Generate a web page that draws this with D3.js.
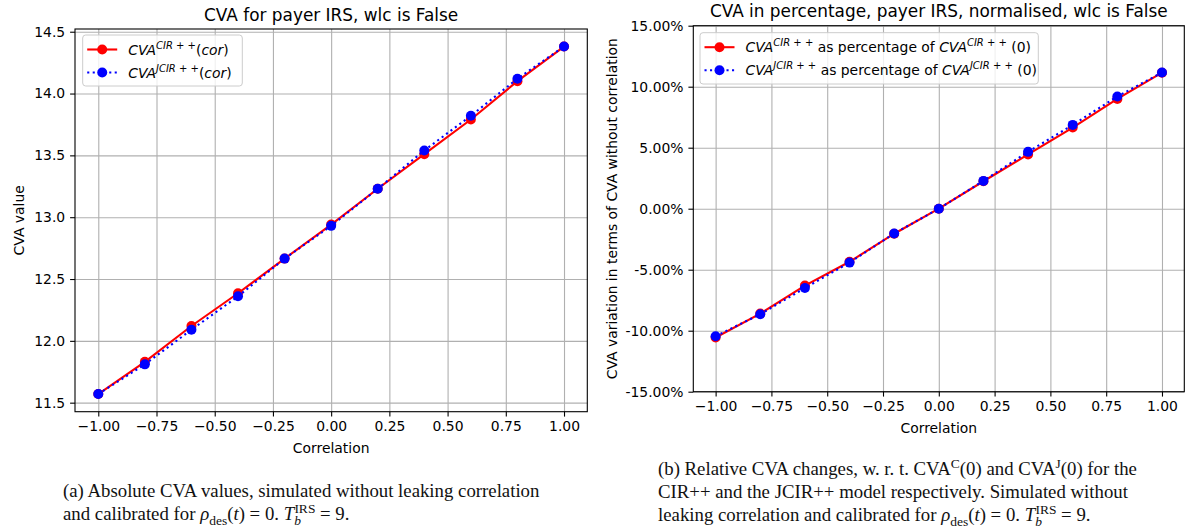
<!DOCTYPE html>
<html>
<head>
<meta charset="utf-8">
<title>CVA vs correlation</title>
<script src="https://cdn.jsdelivr.net/npm/d3@7"></script>
<style>
  body { margin: 0; background: white; }
  svg text { font-family: "DejaVu Sans", sans-serif; }
</style>
</head>
<body>
<svg id="fig" width="1191" height="529"></svg>
<script>
// data
const corr = [-1, -0.8, -0.6, -0.4, -0.2, 0, 0.2, 0.4, 0.6, 0.8, 1];
const cvaCir  = [11.57, 11.83, 12.12, 12.385, 12.665, 12.94, 13.23, 13.51, 13.79, 14.10, 14.38];
const cvaJcir = [11.57, 11.81, 12.09, 12.36, 12.665, 12.93, 13.23, 13.54, 13.82, 14.12, 14.38];
const pctCir  = [-10.56, -8.6, -6.3, -4.35, -2.05, 0, 2.25, 4.45, 6.65, 9.0, 11.15];
const pctJcir = [-10.45, -8.65, -6.5, -4.42, -2.03, 0, 2.28, 4.66, 6.87, 9.2, 11.16];
const xTicks = [-1, -0.75, -0.5, -0.25, 0, 0.25, 0.5, 0.75, 1];
const leftYTicks = [11.5, 12.0, 12.5, 13.0, 13.5, 14.0, 14.5];
const rightYTicks = [-15, -10, -5, 0, 5, 10, 15];

const svg = d3.select("#fig");
const fs = 13.9;
const uminus = s => s.replace(/^[-\u2212]/, "\u2212");
const hyphen = s => s.replace(/^[-\u2212]/, "-");

// write a run of tspans; parts: [text, italic, shift, dx]  shift: 0 base, 1 sup, -1 sub
function rich(text, parts, small) {
  let cur = 0;
  parts.forEach(([t, it, sh, dx]) => {
    const ts = text.append("tspan").text(t);
    if (it) ts.attr("font-style", "italic");
    const target = sh === 1 ? -small.sup : sh === -1 ? small.sub : 0;
    if (target !== cur) { ts.attr("dy", target - cur); cur = target; }
    if (dx) ts.attr("dx", dx);
    if (sh !== 0) ts.attr("font-size", small.size);
  });
}

function panel(o) {
  const x = d3.scaleLinear().domain([-1.1, 1.1]).range([o.left, o.right]);
  const y = d3.scaleLinear().domain(o.yDomain).range([o.bottom, o.top]);
  const g = svg.append("g");

  // grid
  g.append("g").attr("transform", `translate(0,${o.bottom})`)
    .call(d3.axisBottom(x).tickValues(xTicks).tickSize(-(o.bottom - o.top)).tickFormat(""))
    .call(a => a.select(".domain").remove())
    .selectAll("line").attr("stroke", "#b0b0b0").attr("stroke-width", 1.1);
  g.append("g").attr("transform", `translate(${o.left},0)`)
    .call(d3.axisLeft(y).tickValues(o.yTicks).tickSize(-(o.right - o.left)).tickFormat(""))
    .call(a => a.select(".domain").remove())
    .selectAll("line").attr("stroke", "#b0b0b0").attr("stroke-width", 1.1);

  // lines
  const line = d3.line().x((d, i) => x(corr[i])).y(d => y(d));
  const series = [
    { v: o.red, c: "#ff0000", dash: null },
    { v: o.blue, c: "#0000ff", dash: "2.1,3.4" }
  ];
  series.forEach(s => {
    g.append("path").datum(s.v).attr("d", line).attr("fill", "none")
      .attr("stroke", s.c).attr("stroke-width", 2.1).attr("stroke-dasharray", s.dash);
    g.append("g").selectAll("circle").data(s.v).join("circle")
      .attr("cx", (d, i) => x(corr[i])).attr("cy", d => y(d)).attr("r", 5).attr("fill", s.c);
  });

  // axes
  const ax = g.append("g").attr("transform", `translate(0,${o.bottom})`)
    .call(d3.axisBottom(x).tickValues(xTicks).tickSize(4.9).tickPadding(4.9).tickFormat(d => uminus(d3.format(".2f")(d))));
  const ay = g.append("g").attr("transform", `translate(${o.left},0)`)
    .call(d3.axisLeft(y).tickValues(o.yTicks).tickSize(4.9).tickPadding(4.9).tickFormat(o.yFmt));
  [ax, ay].forEach(a => {
    a.select(".domain").remove();
    a.selectAll("text").attr("font-size", fs).attr("font-family", "DejaVu Sans").attr("fill", "#000");
    a.selectAll("line").attr("stroke", "#000").attr("stroke-width", 1.1);
  });
  g.append("rect").attr("x", o.left).attr("y", o.top).attr("width", o.right - o.left)
    .attr("height", o.bottom - o.top).attr("fill", "none").attr("stroke", "#000").attr("stroke-width", 1.1);

  // labels
  const cx = (o.left + o.right) / 2;
  g.append("text").attr("x", cx).attr("y", o.top - 8.5).attr("text-anchor", "middle")
    .attr("font-size", 16.9).text(o.title);
  g.append("text").attr("x", cx).attr("y", o.bottom + 41).attr("text-anchor", "middle")
    .attr("font-size", fs).text("Correlation");
  g.append("text").attr("transform", `translate(${o.ylabX},${(o.top + o.bottom) / 2}) rotate(-90)`)
    .attr("text-anchor", "middle").attr("font-size", fs).text(o.ylabel);

  // legend
  const lg = g.append("g");
  lg.append("rect").attr("x", o.leg.x).attr("y", o.leg.y).attr("width", o.leg.w).attr("height", o.leg.h)
    .attr("rx", 3).attr("fill", "white").attr("fill-opacity", 0.8).attr("stroke", "#cccccc");
  series.forEach((s, i) => {
    const ry = o.leg.y + 14.5 + i * 23;
    const hx = o.leg.x + 4.5;
    lg.append("line").attr("x1", hx).attr("x2", hx + 30).attr("y1", ry).attr("y2", ry)
      .attr("stroke", s.c).attr("stroke-width", 2.1).attr("stroke-dasharray", s.dash);
    lg.append("circle").attr("cx", hx + 15).attr("cy", ry).attr("r", 5).attr("fill", s.c);
    const t = lg.append("text").attr("x", hx + 41).attr("y", ry + 5).attr("font-size", fs);
    rich(t, o.legParts[i], { sup: 6, sub: 3, size: 10 });
  });
}

panel({
  left: 75, right: 587.3, top: 29, bottom: 411.7,
  yDomain: [11.427, 14.522], yTicks: leftYTicks, yFmt: d3.format(".1f"),
  red: cvaCir, blue: cvaJcir,
  title: "CVA for payer IRS, wlc is False", ylabel: "CVA value", ylabX: 24,
  leg: { x: 82.7, y: 35, w: 159.6, h: 51 },
  legParts: [
    [["CVA", 1, 0], ["CIR + +", 1, 1], ["(", 0, 0], ["cor", 1, 0], [")", 0, 0]],
    [["CVA", 1, 0], ["JCIR + +", 1, 1], ["(", 0, 0], ["cor", 1, 0], [")", 0, 0]]
  ]
});

panel({
  left: 693.3, right: 1184.3, top: 25.7, bottom: 391.7,
  yDomain: [-15, 15], yTicks: rightYTicks, yFmt: d => hyphen(d3.format(".2f")(d)) + "%",
  red: pctCir, blue: pctJcir,
  title: "CVA in percentage, payer IRS, normalised, wlc is False",
  ylabel: "CVA variation in terms of CVA without correlation", ylabX: 617,
  leg: { x: 700, y: 32.7, w: 338.3, h: 51.3 },
  legParts: [
    [["CVA", 1, 0], ["CIR + +", 1, 1], [" as percentage of ", 0, 0], ["CVA", 1, 0], ["CIR + +", 1, 1], [" (0)", 0, 0]],
    [["CVA", 1, 0], ["JCIR + +", 1, 1], [" as percentage of ", 0, 0], ["CVA", 1, 0], ["JCIR + +", 1, 1], [" (0)", 0, 0]]
  ]
});

// captions
function caption(x, y0, lines) {
  lines.forEach((parts, i) => {
    const t = svg.append("text").attr("x", x).attr("y", y0 + i * 23)
      .attr("font-size", 18.8).style("font-family", "'Liberation Serif', serif").attr("fill", "#111");
    rich(t, parts, { sup: 7, sub: 5, size: 13.5 });
  });
}
const formulaTail = [["\u03c1", 1, 0], ["des", 0, -1], ["(", 0, 0], ["t", 1, 0], [") = 0.  ", 0, 0],
  ["T", 1, 0], ["b", 1, -1], ["IRS", 0, 1, -6.5], [" = 9.", 0, 0]];
caption(63, 497, [
  [["(a) Absolute CVA values, simulated without leaking correlation", 0, 0]],
  [["and calibrated for ", 0, 0], ...formulaTail]
]);
caption(658, 475, [
  [["(b) Relative CVA changes, w. r. t. CVA", 0, 0], ["C", 0, 1], ["(0) and CVA", 0, 0], ["J", 0, 1], ["(0) for the", 0, 0]],
  [["CIR++ and the JCIR++ model respectively.  Simulated without", 0, 0]],
  [["leaking correlation and calibrated for ", 0, 0], ...formulaTail]
]);
</script>
</body>
</html>
